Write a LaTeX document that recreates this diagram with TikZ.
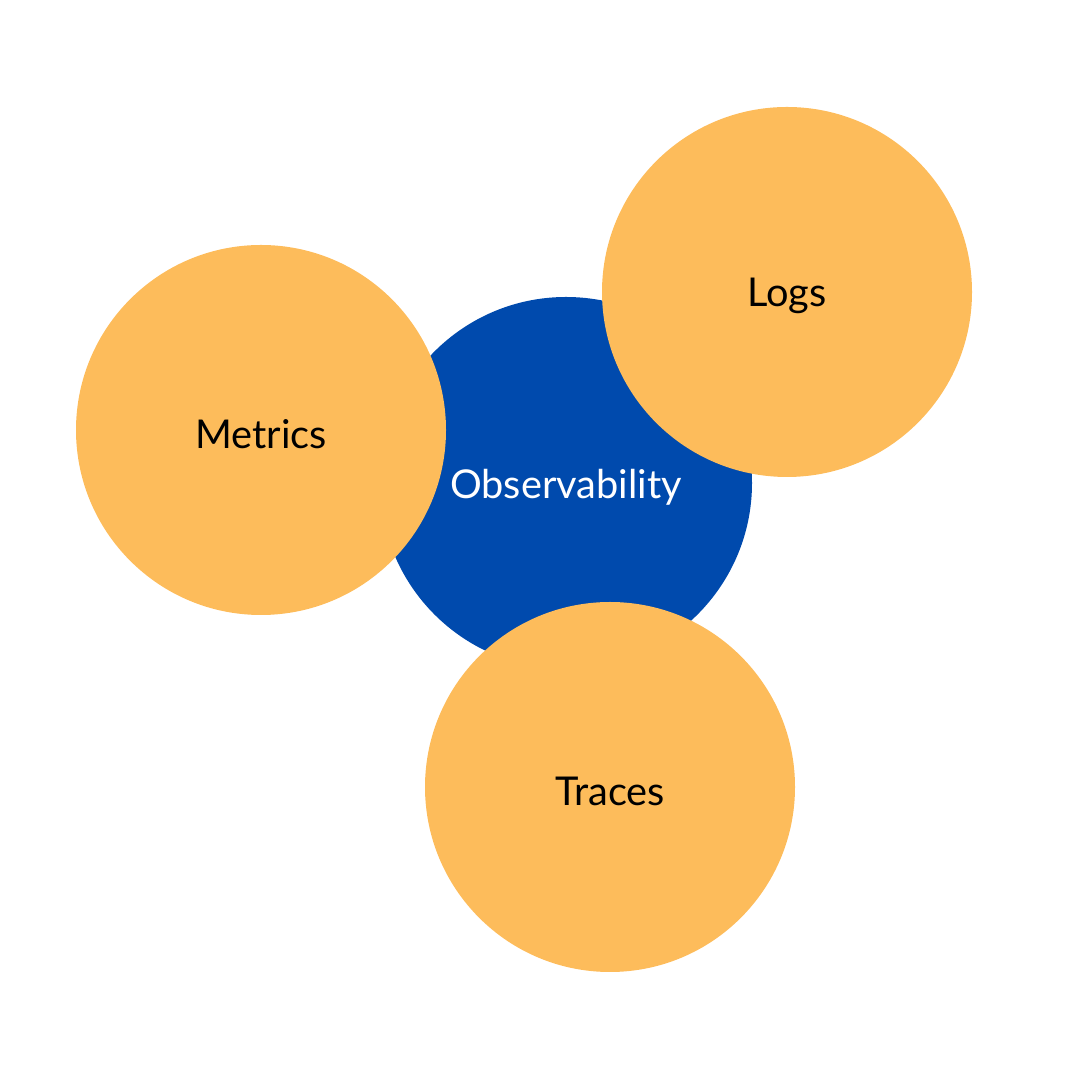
\documentclass[tikz,border=0pt]{standalone}
\usepackage{fontspec}
\setmainfont{Lato}
\usetikzlibrary{positioning}
\definecolor{hubblue}{HTML}{004AAD}
\definecolor{pillarorange}{HTML}{FDBC5B}
\tikzset{
  hub/.style={circle,fill=hubblue,minimum size=3.72cm,inner sep=0pt},
  pillar/.style={circle,fill=pillarorange,minimum size=3.7cm,inner sep=0pt},
  caption/.style={font=\fontsize{11.3}{13}\selectfont,yshift=-0.04cm}
}
\begin{document}
\begin{tikzpicture}
			\useasboundingbox (0,0) rectangle (10.8,10.8);
			% Centre
			\node[hub] (obs) at (5.66,5.97) {};
			
			% Three pillars
			\node[pillar] (metrics) at (2.61,6.50) {};
			\node[pillar] (logs) at (7.87,7.88) {};
			\node[pillar] (traces) at (6.10,2.93) {};
			
			% Labels
			\node[caption,text=white] (obslabel) at (obs.center) {Observability};
			\node[caption] (metricslabel) at (metrics.center) {Metrics};
			\node[caption] (logslabel) at (logs.center) {Logs};
			\node[caption] (traceslabel) at (traces.center) {Traces};
		\end{tikzpicture}
\end{document}
